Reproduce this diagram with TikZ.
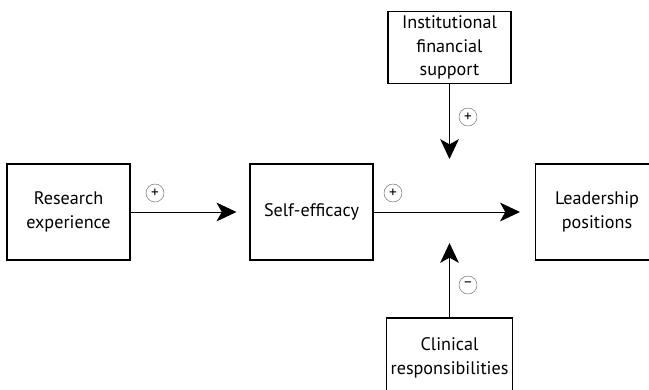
\documentclass[tikz,border=0pt]{standalone}
\usepackage{fontspec}
\setmainfont{PT Sans}
\usetikzlibrary{arrows.meta}

\tikzset{
  varbox/.style={draw, line width=0.9pt, minimum width=3.69cm, minimum height=2.88cm,
    align=center, font=\fontsize{15.5}{20}\selectfont},
  sign/.style={draw=black!60, line width=0.4pt, circle, minimum size=0.54cm, inner sep=0pt,
    font=\fontsize{13}{13}\selectfont},
  link/.style={line width=0.8pt, -{Stealth[length=17pt,width=16pt,inset=4.5pt]}}
}

\begin{document}
\begin{tikzpicture}[x=0.03cm,y=-0.03cm]
        % Frame of the picture
        \useasboundingbox (0,0) rectangle (649,389);

        % Boxes
        \node[varbox] (research) at (68.5,212) {Research\\experience};
        \node[varbox] (selfeff) at (311.5,212) {Self-efficacy};
        \node[varbox] (leader) at (597,212) {Leadership\\positions};
        \node[varbox, minimum height=2.13cm] (support) at (449.5,47.5) {Institutional\\financial\\support};
        \node[varbox, minimum height=2.4cm] (clinical) at (449.5,358) {Clinical\\responsibilities};

        % Free ends of the moderating arrows
        \coordinate (modtop) at (449.5,159);
        \coordinate (modbot) at (449.5,243);

        % Connectors
        \draw[link, shorten >=0.39cm] (research.east) -- (selfeff.west);
        \draw[link, shorten >=0.45cm] (selfeff.east) -- (leader.west);
        \draw[link] (support.south) -- (modtop);
        \draw[link] (clinical.north) -- (modbot);

        % Signs
        \node[sign] (s1) at (155,193) {+};
        \node[sign] (s2) at (393,193) {+};
        \node[sign] (s3) at (468,117) {+};
        \node[sign] (s4) at (468,285) {−};
    \end{tikzpicture}
\end{document}
